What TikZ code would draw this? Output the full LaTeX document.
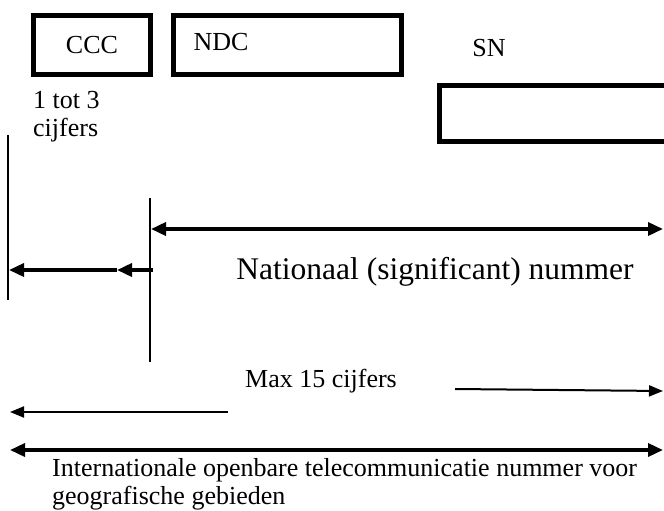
\documentclass[tikz,border=0pt]{standalone}
\usepackage{fontspec}
\setmainfont{Liberation Serif}
\usetikzlibrary{positioning, arrows.meta}

\begin{document}
\begin{tikzpicture}[x=1pt,y=-1pt,
    veld/.style={draw, line width=5pt, inner sep=0pt},
    tekst/.style={font=\fontsize{26}{28}\selectfont, inner sep=0pt},
    groot/.style={font=\fontsize{31.5}{36}\selectfont, inner sep=0pt},
    dik/.style={line width=3.5pt, >={Triangle[length=15pt,width=13pt]}},
    dun/.style={line width=2pt, ->, >={Triangle[length=14pt,width=11pt]}},
    grens/.style={line width=2.5pt}]
    \useasboundingbox (0,0) rectangle (664,511);

    % vakken
    \node[veld, minimum width=117pt, minimum height=59pt] (ccc) at (92,45) {};
    \node[tekst] at (ccc) {CCC};
    \node[veld, minimum width=228pt, minimum height=59pt] (ndc) at (287.5,45) {};
    \node[tekst] (ndclabel) at (221,42) {NDC};
    \node[tekst] (snlabel) at (489,48) {SN};
    \node[veld, minimum width=245pt, minimum height=56pt] (sn) at (561.5,113.5) {};
    \node[tekst, align=left, anchor=west] (ccctal) at (33,117) {1 tot 3\\cijfers};

    % grenslijnen
    \coordinate (l1) at (8,135);
    \coordinate (l2) at (8,300);
    \coordinate (m1) at (150,198);
    \coordinate (m2) at (150,362);
    \draw[grens] (l1) -- (l2);
    \draw[grens] (m1) -- (m2);

    % nationaal nummer
    \coordinate (n1) at (151,229);
    \coordinate (n2) at (663,229);
    \draw[dik, <->] (n1) -- (n2);
    \coordinate (c1) at (153,270);
    \coordinate (c2) at (117,270);
    \coordinate (c3) at (9,270);
    \draw[dik, ->] (c1) -- (c2);
    \draw[dik, ->] (c2) -- (c3);
    \node[groot] (nat) at (435,272) {Nationaal (significant) nummer};

    % max 15 cijfers
    \node[tekst] (max) at (321,381) {Max 15 cijfers};
    \coordinate (r1) at (455,389);
    \coordinate (r2) at (663,391);
    \draw[dun] (r1) -- (r2);
    \coordinate (q1) at (228,412);
    \coordinate (q2) at (10,412);
    \draw[dun] (q1) -- (q2);

    % internationaal nummer
    \coordinate (i1) at (10,450);
    \coordinate (i2) at (663,450);
    \draw[dik, <->] (i1) -- (i2);
    \node[tekst, align=left, anchor=west] (intl) at (52,484)
      {Internationale openbare telecommunicatie nummer voor\\geografische gebieden};
\end{tikzpicture}
\end{document}
